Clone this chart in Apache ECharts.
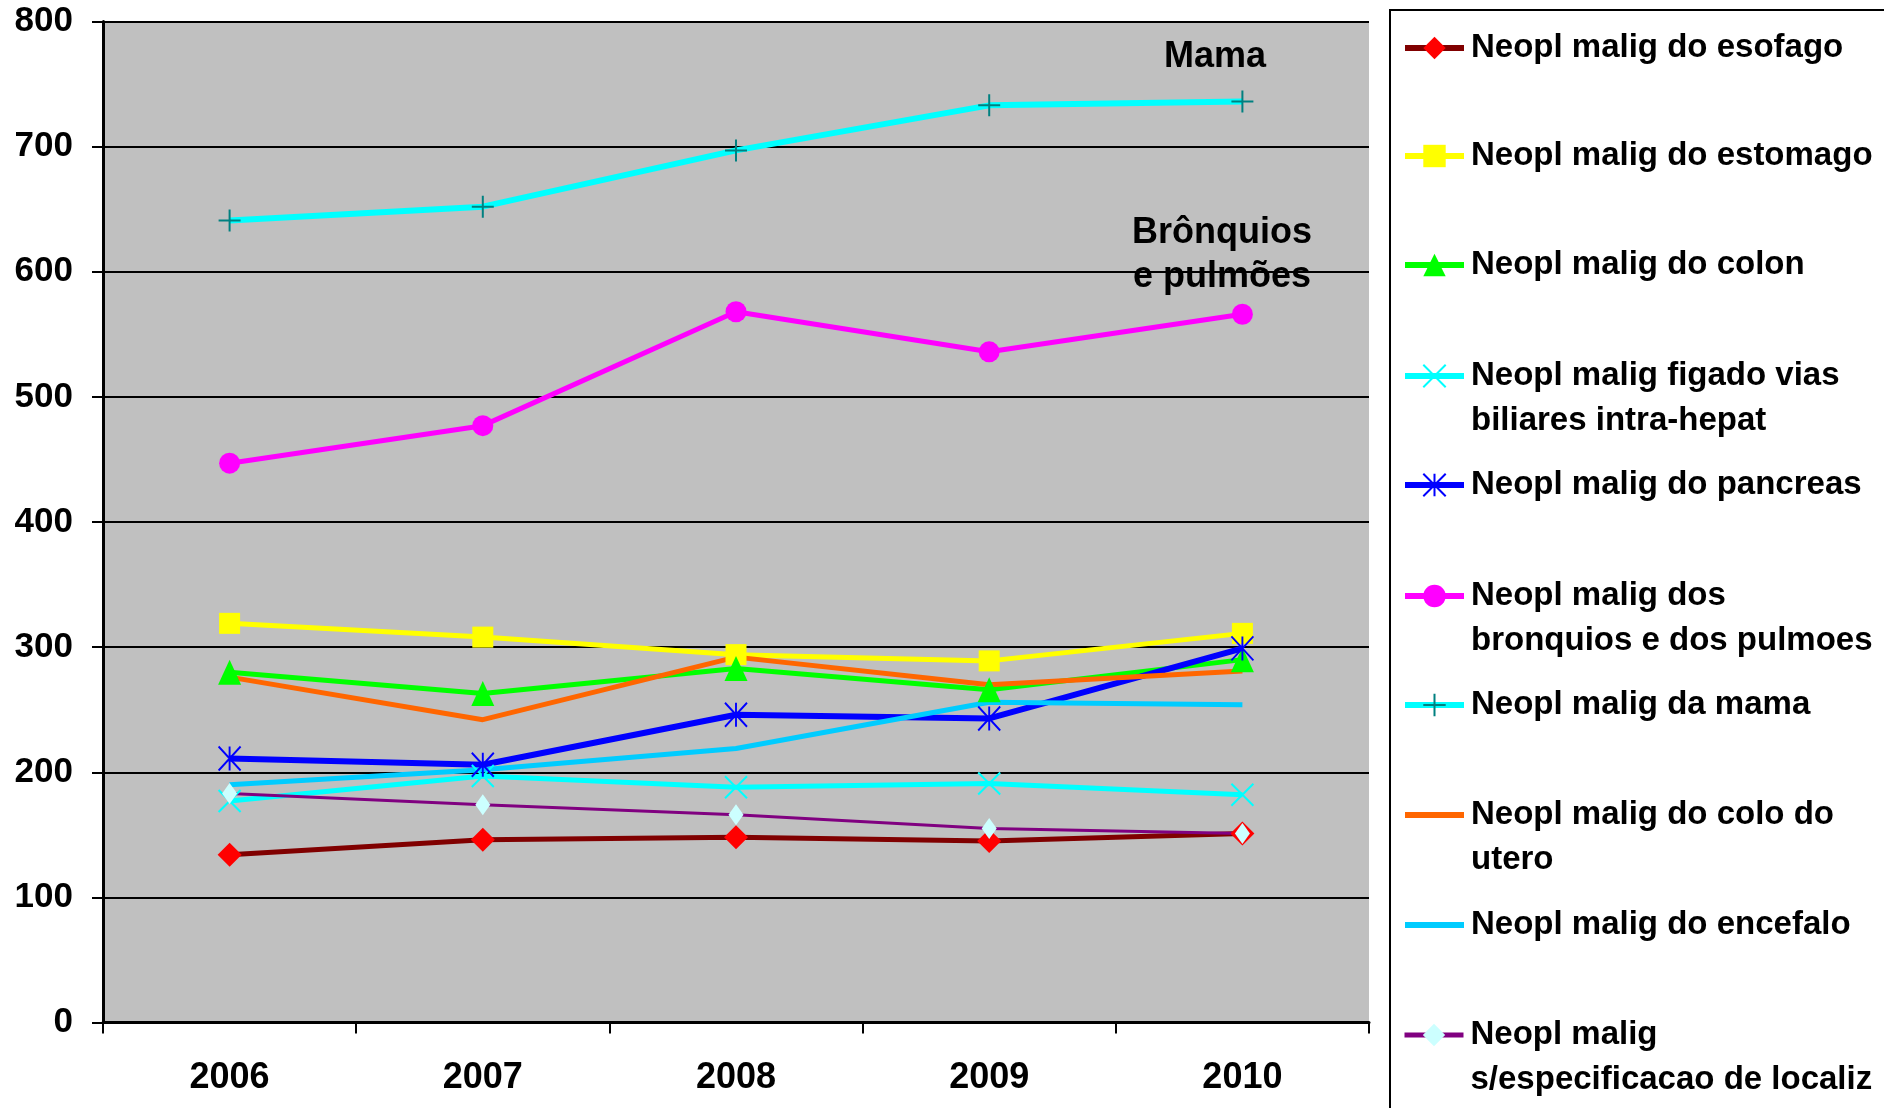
<!DOCTYPE html>
<html>
<head>
<meta charset="utf-8">
<script src="https://cdn.jsdelivr.net/npm/echarts@6/dist/echarts.min.js"></script>
<style>
html, body { margin: 0; padding: 0; background: #fff; }
#chart { width: 1884px; height: 1108px; }
</style>
</head>
<body>
<div id="chart"></div>
<script>
var years = ['2006', '2007', '2008', '2009', '2010'];

var esofago   = [134, 146, 148, 145, 151];
var estomago  = [319, 308, 294, 289, 311];
var colon     = [280, 263, 283, 266, 290];
var figado    = [177, 197, 188, 191, 182];
var pancreas  = [211, 206, 246, 243, 299];
var bronquios = [447, 477, 568, 536, 566];
var mama      = [641, 652, 697, 733, 736];
var utero     = [276, 242, 292, 270, 281];
var encefalo  = [190, 202, 219, 256, 254];
var semEspec  = [183, 174, 166, 155, 151];

var names = [
    'Neopl malig do esofago',
    'Neopl malig do estomago',
    'Neopl malig do colon',
    'Neopl malig figado vias\nbiliares intra-hepat',
    'Neopl malig do pancreas',
    'Neopl malig dos\nbronquios e dos pulmoes',
    'Neopl malig da mama',
    'Neopl malig do colo do\nutero',
    'Neopl malig do encefalo',
    'Neopl malig\ns/especificacao de localiz'
];

var FONT = '"Liberation Sans", Arial, sans-serif';

var plusPath = 'path://M10,0 L10,20 M0,10 L20,10';
var crossPath = 'path://M0,0 L20,20 M20,0 L0,20';
var starPath = 'path://M10,0 L10,20 M0,0 L20,20 M20,0 L0,20';

function line(name, data, lineColor, lineWidth, symbol, symbolSize, markColor, stroke) {
    return {
        name: name,
        type: 'line',
        data: data,
        symbol: symbol,
        symbolSize: symbolSize,
        lineStyle: { color: lineColor, width: lineWidth },
        itemStyle: stroke
            ? { color: markColor, borderColor: markColor, borderWidth: 2 }
            : { color: markColor, borderWidth: 0 },
        emphasis: { disabled: true }
    };
}

var series = [
    line(names[0], esofago, '#800000', 5, 'diamond', [24, 24], '#FF0000'),
    line(names[1], estomago, '#FFFF00', 5, 'rect', 21, '#FFFF00'),
    line(names[2], colon, '#00FF00', 5, 'triangle', [23, 25], '#00FF00'),
    line(names[3], figado, '#00FFFF', 5, crossPath, 22, '#00FFFF', true),
    line(names[4], pancreas, '#0000FF', 6, starPath, [22, 24], '#0000FF', true),
    line(names[5], bronquios, '#FF00FF', 5, 'circle', 21, '#FF00FF'),
    line(names[6], mama, '#00FFFF', 6, plusPath, 22, '#008080', true),
    line(names[7], utero, '#FF6600', 5, 'none', 0, '#FF6600'),
    line(names[8], encefalo, '#00CCFF', 5, 'none', 0, '#00CCFF'),
    line(names[9], semEspec, '#800080', 3, 'diamond', [15, 21], '#CCFFFF')
];

// legend icon centres (px), one legend block per series
var legendCentres = [48, 156, 265, 376, 485, 596, 705, 815, 925, 1035];
var LH = 45;
var legends = names.map(function (n, i) {
    var twoLines = n.indexOf('\n') >= 0;
    var noMarker = series[i].symbol === 'none';
    return {
        data: [n],
        left: 1402,
        top: twoLines ? legendCentres[i] - LH * 1.5 : legendCentres[i] - LH / 2,
        padding: 0,
        itemWidth: 59,
        itemHeight: 28,
        selectedMode: false,
        lineStyle: { width: i === 9 ? 5 : 6 },
        itemStyle: noMarker ? { opacity: 0 } : {},
        // an empty first line keeps the marker level with the first text line
        formatter: function (name) {
            return name.indexOf('\n') >= 0 ? '\n' + name : name;
        },
        textStyle: {
            fontFamily: FONT,
            fontWeight: 'bold',
            fontSize: 33,
            lineHeight: LH,
            color: '#000',
            padding: [0, 0, 0, 2]
        }
    };
});

var myChart = echarts.init(document.getElementById('chart'));
var option = {
    animation: false,
    backgroundColor: '#fff',
    grid: {
        left: 103,
        right: 515,
        top: 21.5,
        bottom: 85.5,
        show: true,
        backgroundColor: '#C0C0C0',
        borderWidth: 0
    },
    legend: legends,
    xAxis: {
        type: 'category',
        data: years,
        boundaryGap: true,
        axisLine: { lineStyle: { color: '#000', width: 3 } },
        axisTick: { show: true, length: 11, lineStyle: { color: '#000', width: 2 } },
        axisLabel: {
            margin: 38,
            color: '#000',
            fontFamily: FONT,
            fontWeight: 'bold',
            fontSize: 36
        },
        splitLine: { show: false }
    },
    yAxis: {
        type: 'value',
        min: 0,
        max: 800,
        interval: 100,
        axisLine: { show: true, lineStyle: { color: '#000', width: 3 } },
        axisTick: { show: true, length: 11, lineStyle: { color: '#000', width: 2 } },
        axisLabel: {
            margin: 30,
            color: '#000',
            fontFamily: FONT,
            fontWeight: 'bold',
            fontSize: 35
        },
        splitLine: { show: true, lineStyle: { color: '#000', width: 2 } }
    },
    graphic: [
        {
            type: 'rect',
            shape: { x: 1390, y: 10, width: 600, height: 1200 },
            style: { fill: 'none', stroke: '#000', lineWidth: 2 },
            z: 0
        },
        {
            type: 'text',
            x: 1215,
            y: 57,
            style: {
                text: 'Mama',
                fontFamily: FONT,
                fontWeight: 'bold',
                fontSize: 36,
                fill: '#000',
                align: 'center',
                verticalAlign: 'middle'
            },
            z: 100
        },
        {
            type: 'text',
            x: 1222,
            y: 255,
            style: {
                text: 'Brônquios\ne pulmões',
                fontFamily: FONT,
                fontWeight: 'bold',
                fontSize: 36,
                lineHeight: 44,
                fill: '#000',
                align: 'center',
                verticalAlign: 'middle'
            },
            z: 100
        }
    ],
    series: series
};

myChart.setOption(option);
</script>
</body>
</html>
